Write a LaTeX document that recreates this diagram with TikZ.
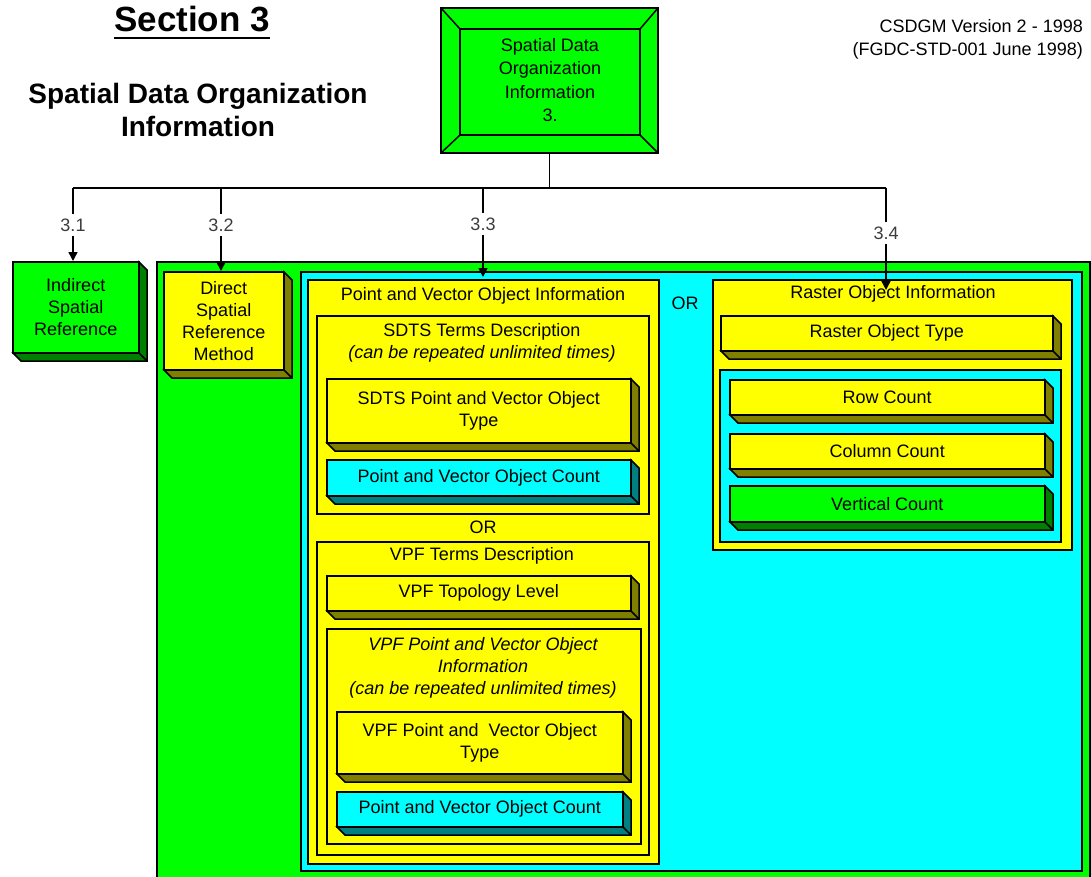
\documentclass[tikz,border=0pt]{standalone}
\usepackage{fontspec}
\setmainfont{Liberation Sans}
\usetikzlibrary{arrows.meta}
\definecolor{gr}{RGB}{0,255,0}
\definecolor{dgr}{RGB}{0,128,0}
\definecolor{ye}{RGB}{255,255,0}
\definecolor{dye}{RGB}{128,128,0}
\definecolor{cy}{RGB}{0,255,255}
\definecolor{dcy}{RGB}{0,128,128}
\definecolor{lbl}{RGB}{60,60,60}
\tikzset{
  bord/.style={draw=black, line width=1.5pt, line join=miter},
  txt/.style={font=\fontsize{18}{22}\selectfont, align=center, inner sep=0pt},
  itx/.style={font=\fontsize{18}{22}\selectfont\itshape, align=center, inner sep=0pt},
  conn/.style={draw=black, line width=1.5pt},
  arr/.style={conn, -{Triangle[length=9pt,width=9pt]}},
  num/.style={font=\fontsize{18}{22}\selectfont, text=lbl, inner sep=4pt},
}
% 3D raised box: name, x1, y1, x2, y2, face colour, side colour, text
\newcommand\tdbox[8]{%
  \fill[#7] (#4,#3) -- (#4+9,#3+9) -- (#4+9,#5+9) -- (#2+9,#5+9) -- (#2,#5) -- cycle;
  \draw[bord] (#4,#3) -- (#4+9,#3+9) -- (#4+9,#5+9) -- (#2+9,#5+9) -- (#2,#5);
  \draw[bord] (#4,#5) -- (#4+9,#5+9);
  \node[bord, fill=#6, txt, anchor=north west, minimum width={(#4)-(#2)}, minimum height={(#5)-(#3)}] (#1) at (#2,#3) {#8};
}
% flat container: name, x1, y1, x2, y2, fill
\newcommand\pnl[6]{%
  \node[bord, fill=#6, anchor=north west, inner sep=0pt, minimum width={(#4)-(#2)}, minimum height={(#5)-(#3)}] (#1) at (#2,#3) {};
}
\begin{document}
\begin{tikzpicture}[x=1pt,y=-1pt]
\useasboundingbox (0,0) rectangle (1091,877);
\clip (0,0) rectangle (1091,877);

% headings
\node[font=\fontsize{35}{40}\selectfont\bfseries, anchor=base, inner sep=0pt] (sec) at (192,32) {Section 3};
\draw[line width=2.5pt] ([yshift=-6pt]sec.base west) -- ([yshift=-6pt]sec.base east);
\node[font=\fontsize{28}{33}\selectfont\bfseries, align=center, inner sep=0pt] (hd) at (198,110) {Spatial Data Organization\\Information};
\node[font=\fontsize{18}{23}\selectfont, align=right, anchor=north east, inner sep=0pt] (ver) at (1083,19) {CSDGM Version 2 - 1998\\(FGDC-STD-001 June 1998)};

% root box
\node[bord, fill=gr, inner sep=0pt, minimum width=217pt, minimum height=145pt] (root) at (549.5,80.5) {};
\draw[bord] (460,29) rectangle (640,135);
\draw[bord] (441,8) -- (460,29) (658,8) -- (640,29) (441,153) -- (460,135) (658,153) -- (640,135);
\node[txt, font=\fontsize{18}{23.5}\selectfont] (roottxt) at (550,80) {Spatial Data\\Organization\\Information\\3.};

% big containers
\pnl{direct}{156}{261}{1089}{900}{gr}
\pnl{cyanbox}{300}{271}{1081}{870}{cy}

% point and vector
\pnl{pvoi}{307}{279}{658}{863}{ye}
\node[txt] (pvoit) at (483,296) {Point and Vector Object Information};
\pnl{sdts}{316}{315}{648}{513}{ye}
\node[txt] (sdtst) at (482,332) {SDTS Terms Description};
\node[itx] (sdtsr) at (482,354) {(can be repeated unlimited times)};
\tdbox{sdtstype}{326}{378}{630}{442}{ye}{dye}{SDTS Point and Vector Object\\Type}
\tdbox{sdtscount}{326}{459}{630}{495}{cy}{dcy}{Point and Vector Object Count}
\node[txt] (or1) at (483,527) {OR};
\pnl{vpf}{316}{541}{648}{854}{ye}
\node[txt] (vpft) at (482,556) {VPF Terms Description};
\tdbox{vpftopo}{326}{575}{630}{610}{ye}{dye}{VPF Topology Level}
\pnl{vpfinfo}{326}{628}{640}{843}{ye}
\node[itx] (vpfinfot) at (483,668) {VPF Point and Vector Object\\Information\\(can be repeated unlimited times)};
\tdbox{vpftype}{336}{711}{622}{773}{ye}{dye}{VPF Point and~ Vector Object\\Type}
\tdbox{vpfcount}{336}{791}{622}{826}{cy}{dcy}{Point and Vector Object Count}

% raster
\node[txt] (or2) at (685,303) {OR};
\pnl{raster}{712}{279}{1071}{549}{ye}
\node[txt] (rastert) at (893,294) {Raster Object Information};
\tdbox{rtype}{720}{315}{1052}{350}{ye}{dye}{Raster Object Type}
\pnl{rcounts}{719}{369}{1060}{541}{cy}
\tdbox{rowc}{729}{379}{1044}{414}{ye}{dye}{Row Count}
\tdbox{colc}{729}{433}{1044}{468}{ye}{dye}{Column Count}
\tdbox{vertc}{729}{485}{1044}{521}{gr}{dgr}{Vertical Count}

% left boxes
\tdbox{isr}{12}{261}{138}{352}{gr}{dgr}{Indirect\\Spatial\\Reference}
\tdbox{dsrm}{163}{271}{283}{369}{ye}{dye}{Direct\\Spatial\\Reference\\Method}

% connectors
\coordinate (bus) at (549.5,188);
\coordinate (b1) at (73,188);
\coordinate (b2) at (221,188);
\coordinate (b3) at (483,188);
\coordinate (b4) at (886,188);
\draw[conn] (root) -- (bus);
\draw[conn] (b1) -- (b4);
\node[num] (n31) at (73,225) {3.1};
\node[num] (n32) at (221,225) {3.2};
\node[num] (n33) at (483,224) {3.3};
\node[num] (n34) at (886,233) {3.4};
\coordinate (t33) at (483,277);
\coordinate (t34) at (886,290);
\draw[conn] (b1) -- (n31);
\draw[arr] (n31) -- (n31 |- isr.north);
\draw[conn] (b2) -- (n32);
\draw[arr] (n32) -- (n32 |- dsrm.north);
\draw[conn] (b3) -- (n33);
\draw[arr] (n33) -- (t33);
\draw[conn] (b4) -- (n34);
\draw[arr] (n34) -- (t34);
\end{tikzpicture}
\end{document}
